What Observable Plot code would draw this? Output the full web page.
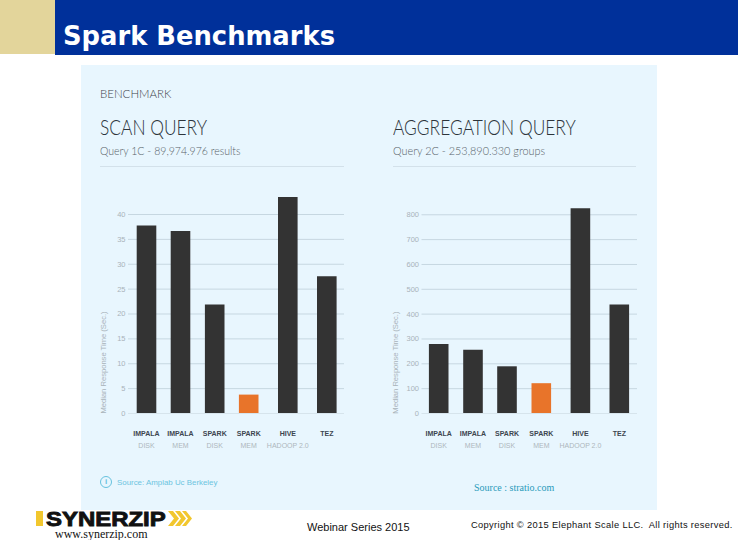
<!DOCTYPE html>
<html>
<head>
<meta charset="utf-8">
<script src="https://cdn.jsdelivr.net/npm/d3@7"></script>
<script src="https://cdn.jsdelivr.net/npm/@observablehq/plot@0.6"></script>
<style>
html,body{margin:0;padding:0;background:#fff;width:738px;height:540px;overflow:hidden}
.a{position:absolute;white-space:nowrap;line-height:1}
.s{transform-origin:left center}
#page{position:relative;width:738px;height:540px;overflow:hidden}
</style>
</head>
<body>
<div id="page">
  <div class="a" style="left:0;top:0;width:55px;height:54px;background:#e3d59b"></div>
  <div class="a" style="left:55px;top:0;width:683px;height:55px;background:#00309a"></div>
  <div class="a" style="left:63px;top:21px;color:#fff;font:bold 25.8px 'DejaVu Sans'">Spark Benchmarks</div>
  <div class="a" style="left:81px;top:65px;width:576px;height:445px;background:#e8f6fe"></div>
  <div class="a s" style="left:100px;top:86px;color:#3a4249;font:300 12.5px Lato;transform:scaleX(.92)">BENCHMARK</div>
  <div class="a s" style="left:100px;top:114px;color:#2c343b;font:300 21.5px Lato;transform:scaleX(.807)">SCAN QUERY</div>
  <div class="a s" style="left:100px;top:143px;color:#565f68;font:300 12.5px Lato;transform:scaleX(.845)">Query 1C - 89,974.976 results</div>
  <div class="a" style="left:100px;top:166px;width:244px;height:1px;background:#d3e1ea"></div>
  <div class="a s" style="left:393px;top:114px;color:#2c343b;font:300 21.5px Lato;transform:scaleX(.807)">AGGREGATION QUERY</div>
  <div class="a s" style="left:393px;top:143px;color:#565f68;font:300 12.5px Lato;transform:scaleX(.87)">Query 2C - 253,890.330 groups</div>
  <div class="a" style="left:393px;top:166px;width:243px;height:1px;background:#d3e1ea"></div>
  <div class="a" style="left:100px;top:476px;width:10px;height:10px;border:1.3px solid #66c2de;border-radius:50%;color:#66c2de;font:bold 8px 'Liberation Sans';text-align:center;line-height:10px">i</div>
  <div class="a" style="left:117px;top:478px;color:#6cc4e0;font:7.9px 'Liberation Sans'">Source: Amplab Uc Berkeley</div>
  <div class="a" style="left:474px;top:482px;color:#2a9bbb;font:10px 'Liberation Serif'">Source : stratio.com</div>
  <div class="a" style="left:36px;top:511px;width:7px;height:15px;background:#f2c72e"></div>
  <div class="a s" style="left:46px;top:510px;height:17px;line-height:17px;color:#111;font-family:'Liberation Sans';font-weight:bold;font-size:21px;-webkit-text-stroke:.9px #111;transform:scaleX(1.14)">SYNERZIP</div>
  <svg class="a" style="left:165px;top:511px" width="28" height="15"><g fill="#f2c72e"><path d="M3 0h5l6 7.5-6 7.5H3l6-7.5z"/><path d="M10 0h5l6 7.5-6 7.5h-5l6-7.5z"/><path d="M17 0h4l6 7.5-6 7.5h-4l6-7.5z"/></g></svg>
  <div class="a" style="left:55px;top:526.5px;color:#111;font:12px 'Liberation Serif'">www.synerzip.com</div>
  <div class="a" style="left:307px;top:521px;color:#111;font:11px 'Liberation Sans'">Webinar Series 2015</div>
  <div class="a" style="left:471px;top:520px;color:#111;font:9.3px 'Liberation Sans';letter-spacing:.35px">Copyright © 2015 Elephant Scale LLC.&nbsp; All rights reserved.</div>
  <div id="left" class="a" style="left:90px;top:180px"></div>
  <div id="right" class="a" style="left:380px;top:180px"></div>
</div>
<script>
const engines = ["IMPALA", "IMPALA", "SPARK", "SPARK", "HIVE", "TEZ"];
const modes = ["DISK", "MEM", "DISK", "MEM", "HADOOP 2.0", ""];
const scanSeconds = [37.7, 36.6, 21.8, 3.7, 43.4, 27.5];
const aggregationSeconds = [278, 255, 188, 120, 824, 437];
const scanTicks = [0, 5, 10, 15, 20, 25, 30, 35, 40];
const aggregationTicks = [0, 100, 200, 300, 400, 500, 600, 700, 800];
const yLabel = "Median Response Time (Sec.)";
const highlighted = "SPARK MEM";

function panel(id, values, ticks, opts) {
  const rows = engines.map((e, i) => ({key: e + " " + modes[i], engine: e, mode: modes[i], value: values[i]}));
  const keys = rows.map(d => d.key);
  const baseline = 233;
  const chart = Plot.plot({
    width: opts.width,
    height: 280,
    marginLeft: opts.marginLeft,
    marginRight: opts.width - opts.gridEnd,
    marginTop: 9,
    marginBottom: 47,
    style: {background: "transparent", fontFamily: "'Liberation Sans'", overflow: "visible"},
    x: {type: "ordinal", domain: keys, range: opts.centers, axis: null},
    y: {domain: opts.domain, range: [baseline, baseline - opts.domain[1] * opts.pxPerUnit], axis: null},
    marks: [
      Plot.ruleY(ticks.filter(t => t > 0), {y: d => d, stroke: "#c6d7e1", strokeWidth: 1}),
      Plot.ruleY([0], {stroke: "#d6e4ec", strokeWidth: 1}),
      Plot.text(ticks, {y: d => d, text: d => String(d), frameAnchor: "left", textAnchor: "end", dx: -3, fill: "#a9b3ba", fontSize: 7.5}),
      Plot.text([yLabel], {text: d => d, y: () => opts.labelAt, frameAnchor: "left", textAnchor: "middle", dx: opts.labelDx, rotate: -90, fill: "#a9b3ba", fontSize: 7.6}),
      Plot.ruleX(rows, {x: "key", y: "value", strokeWidth: 19.6, stroke: d => d.key === highlighted ? "#e8742a" : "#333333"}),
      Plot.text(rows, {x: "key", text: "engine", frameAnchor: "bottom", dy: 22, fill: "#3d4650", fontSize: 7, fontWeight: "bold"}),
      Plot.text(rows, {x: "key", text: "mode", frameAnchor: "bottom", dy: 34, fill: "#aeb7bd", fontSize: 7})
    ]
  });
  document.getElementById(id).appendChild(chart);
}

panel("left", scanSeconds, scanTicks, {
  width: 265, marginLeft: 38, gridEnd: 254,
  centers: [56, 90, 124.2, 158.2, 197.3, 236.3],
  domain: [0, 45], pxPerUnit: 4.975, labelAt: 10.25, labelDx: -25
});
panel("right", aggregationSeconds, aggregationTicks, {
  width: 265, marginLeft: 41.5, gridEnd: 257,
  centers: [58.2, 92.5, 126.5, 160.8, 199.9, 238.8],
  domain: [0, 900], pxPerUnit: 0.2484, labelAt: 205, labelDx: -26
});
</script>
</body>
</html>
